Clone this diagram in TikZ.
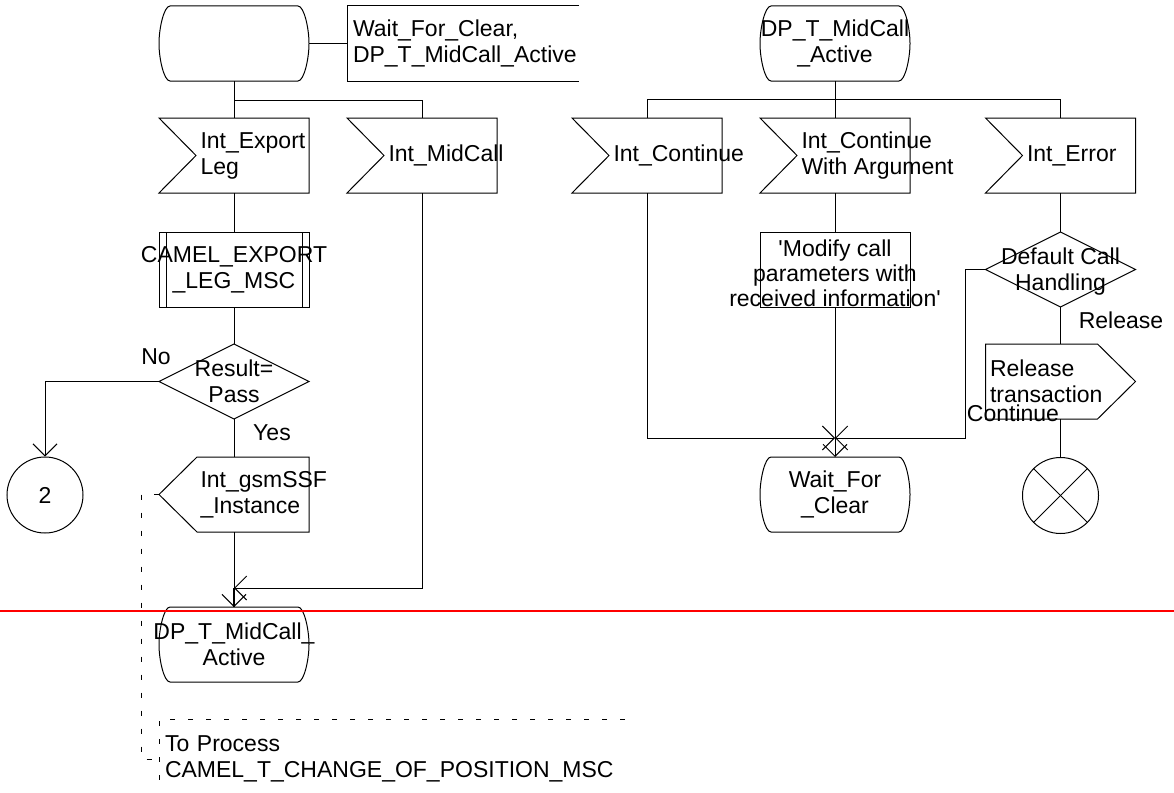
\documentclass[tikz,border=0pt]{standalone}
\usepackage{fontspec}
\setmainfont{Liberation Sans}
\usetikzlibrary{shapes.geometric}
\usetikzlibrary{arrows.meta}

\begin{document}
\begin{tikzpicture}[x=1pt,y=-1pt,line width=1pt,font=\fontsize{23}{26}\selectfont,
  >={Straight Barb[length=12pt,width=24pt]},
  sym/.style={rectangle,minimum width=150pt,minimum height=75pt,inner sep=0pt,outer sep=0pt},
  procbox/.style={sym,draw},
  decision/.style={diamond,draw,minimum width=150pt,minimum height=75pt,inner sep=0pt,outer sep=0pt},
  conn/.style={circle,draw,minimum size=76pt,inner sep=0pt},
  mid/.style={align=center,inner sep=0pt},
  lft/.style={align=left,inner sep=0pt},
  notedash/.style={dash pattern=on 5pt off 13pt}]
\useasboundingbox (0,0) rectangle (1174,792);

\node [sym] (start) at (234,43.5) {};
\node [sym,right=38pt,at=(start.east),minimum width=232pt,text width=220pt,align=left] (startnote) {Wait\_For\_Clear,\\DP\_T\_MidCall\_Active};
\node [sym,below=37pt,at=(start.south)] (exportleg) {};
\node [lft,right=41pt,at=(exportleg.west)] (exportlegtxt) {Int\_Export\\Leg};
\node [sym,right=38pt,at=(exportleg.east)] (midcall) {};
\node [lft,right=41pt,at=(midcall.west)] (midcalltxt) {Int\_MidCall};
\node [procbox,below=39pt,at=(exportleg.south),label={[mid]center:CAMEL\_EXPORT\\\_LEG\_MSC}] (exportmsc) {};
\node [decision,below=37pt,at=(exportmsc.south),label={[mid]center:Result=\\Pass}] (result) {};
\node (no) at (156,357) {No};
\node [conn] (conn2) at (45,495) {2};
\node (yes) at (272,433) {Yes};
\node [sym,below=38pt,at=(result.south)] (gsmssf) {};
\node [lft,right=41pt,at=(gsmssf.west)] (gsmssftxt) {Int\_gsmSSF\\\_Instance};
\node [sym,below=75pt,at=(gsmssf.south),label={[mid]center:DP\_T\_MidCall\_\\Active}] (dpb) {};
\node [sym,anchor=north west,minimum width=466pt,minimum height=80pt,text width=454pt,align=left] (tonote) at (159,719) {To Process\\CAMEL\_T\_CHANGE\_OF\_POSITION\_MSC};
\coordinate (join1) at (234,588);

\node [sym] (contarg) at (835,155.5) {};
\node [lft,right=41pt,at=(contarg.west)] (contargtxt) {Int\_Continue\\With Argument};
\node [sym,left=38pt,at=(contarg.west)] (cont) {};
\node [lft,right=41pt,at=(cont.west)] (conttxt) {Int\_Continue};
\node [sym,right=75.5pt,at=(contarg.east)] (interr) {};
\node [lft,right=41pt,at=(interr.west)] (interrtxt) {Int\_Error};
\node [sym,above=37pt,at=(contarg.north),label={[mid]center:DP\_T\_MidCall\\\_Active}] (dpa) {};
\node [procbox,below=39pt,at=(contarg.south),label={[mid,font=\fontsize{23}{25}\selectfont,yshift=-4pt]center:\textquotesingle Modify call\\parameters with\\received information\textquotesingle}] (modify) {};
\node [decision,below=39pt,at=(interr.south),label={[mid,yshift=-2pt]center:Default Call\\Handling}] (cdh) {};
\node (release) at (1121,320) {Release};
\node [sym,below=37pt,at=(cdh.south)] (reltrans) {};
\node [lft,right=4pt,at=(reltrans.west)] (reltranstxt) {Release\\transaction};
\node (contlbl) at (1013,413) {Continue};
\node [conn,below=38pt,at=(reltrans.south)] (stop) {};
\node [sym,below=150pt,at=(modify.south),label={[mid]center:Wait\_For\\\_Clear}] (wfc) {};
\coordinate (join2) at (835,438);

\foreach \s in {start,dpb,dpa,wfc}
  \draw ([xshift=11pt]\s.north west) -- ([xshift=-11pt]\s.north east)
    .. controls ([xshift=-5pt]\s.north east) and ([yshift=-22pt]\s.north east) .. (\s.east)
    .. controls ([yshift=22pt]\s.south east) and ([xshift=-5pt]\s.south east) .. ([xshift=-11pt]\s.south east)
    -- ([xshift=11pt]\s.south west)
    .. controls ([xshift=5pt]\s.south west) and ([yshift=22pt]\s.south west) .. (\s.west)
    .. controls ([yshift=-22pt]\s.north west) and ([xshift=5pt]\s.north west) .. cycle;
\foreach \s in {exportleg,midcall,cont,contarg,interr}
  \draw (\s.north west) -- (\s.north east) -- (\s.south east) -- (\s.south west) -- ([xshift=37pt]\s.west) -- cycle;
\draw ([xshift=38pt]gsmssf.north west) -- (gsmssf.north east) -- (gsmssf.south east) -- ([xshift=38pt]gsmssf.south west) -- (gsmssf.west) -- cycle;
\draw (reltrans.north west) -- ([xshift=-38pt]reltrans.north east) -- (reltrans.east) -- ([xshift=-38pt]reltrans.south east) -- (reltrans.south west) -- cycle;
\draw ([xshift=7pt]exportmsc.north west) -- ([xshift=7pt]exportmsc.south west);
\draw ([xshift=-7pt]exportmsc.north east) -- ([xshift=-7pt]exportmsc.south east);
\draw (stop.north west) -- (stop.south east);
\draw (stop.north east) -- (stop.south west);
\draw (startnote.north east) -- (startnote.north west) -- (startnote.south west) -- (startnote.south east);
\draw [notedash] (tonote.north east) -- (tonote.north west) -- (tonote.south west);

\draw (start) -- (startnote);
\draw (start) -- (exportleg);
\draw (start.south) -- ++(0,19) -| (midcall.north);
\draw (exportleg) -- (exportmsc);
\draw (exportmsc) -- (result);
\draw [->] (result.west) -| (conn2.north);
\draw (result) -- (gsmssf);
\draw [->] (gsmssf) -- (dpb);
\draw [->] (midcall.south) |- (join1);
\draw [line width=2.5pt] (join1) -- (dpb.north);
\draw [notedash] (gsmssf.west) -- ++(-18,0) |- (tonote.west);

\draw (dpa) -- (contarg);
\draw (cont.north) -- ++(0,-19) -| (interr.north);
\draw (contarg) -- (modify);
\draw [->] (modify) -- (wfc);
\draw [->] (cont.south) |- (join2);
\draw [->] (cdh.west) -- ++(-20,0) |- (join2);
\draw (interr) -- (cdh);
\draw (cdh) -- (reltrans);
\draw (reltrans) -- (stop);

\draw [red,line width=2pt] (0,611) -- (1174,611);
\end{tikzpicture}
\end{document}
